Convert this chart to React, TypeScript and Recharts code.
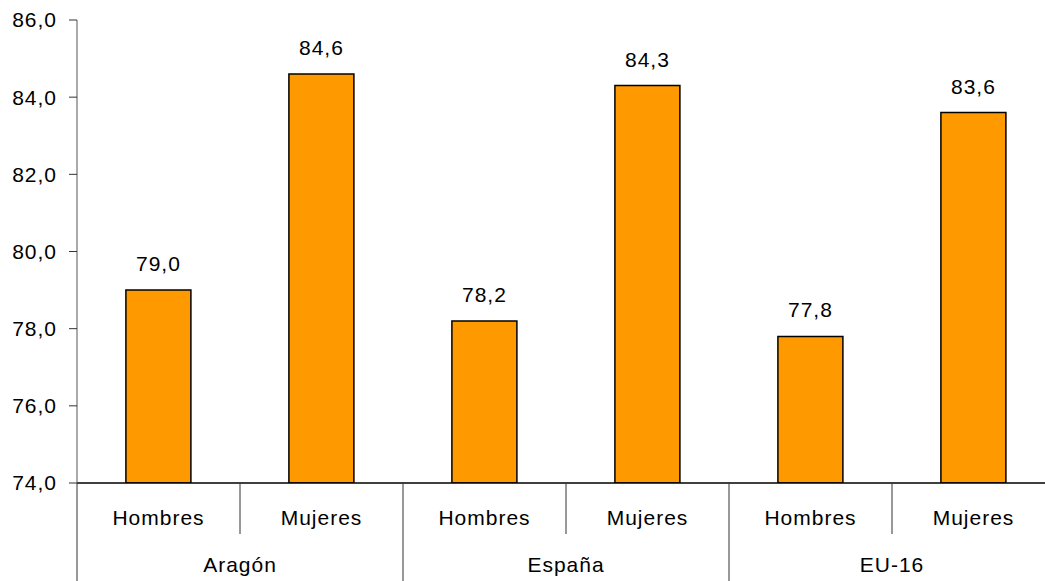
import { BarChart, Bar, XAxis, YAxis, LabelList } from "recharts";

const sexes = ["Hombres", "Mujeres", "Hombres", "Mujeres", "Hombres", "Mujeres"];
const regions = ["Aragón", "Aragón", "España", "España", "EU-16", "EU-16"];
const values = [79.0, 84.6, 78.2, 84.3, 77.8, 83.6];
const yTicks = [74, 76, 78, 80, 82, 84, 86];

const data = sexes.map((s, i) => ({ sex: s, region: regions[i], value: values[i] }));

const FONT = "'Liberation Sans', Arial, sans-serif";
const FS = 21;
const LS = 1;
const CHART_W = 1060;
const CHART_H = 581;
const PLOT_LEFT = 77;
const PLOT_RIGHT = 1055;
const CAT_W = (PLOT_RIGHT - PLOT_LEFT) / sexes.length;

const fmt = (v: number) => v.toFixed(1).replace(".", ",");

function CategoryTick(props: any) {
  const { x, y, index, payload } = props;
  const left = x - CAT_W / 2;
  const isGroupStart = index % 2 === 0;
  return (
    <g>
      <line
        x1={left}
        x2={left}
        y1={y}
        y2={isGroupStart ? y + 110 : y + 51}
        stroke="#333"
        strokeWidth={1}
      />
      {index === sexes.length - 1 ? (
        <line x1={x + CAT_W / 2} x2={x + CAT_W / 2} y1={y} y2={y + 110} stroke="#333" />
      ) : null}
      <text x={x} y={y + 42} textAnchor="middle" fontSize={FS} letterSpacing={LS} fontFamily={FONT} fill="#000">
        {payload.value}
      </text>
      {isGroupStart ? (
        <text
          x={x + CAT_W / 2}
          y={y + 89}
          textAnchor="middle"
          fontSize={FS}
          letterSpacing={LS}
          fontFamily={FONT}
          fill="#000"
        >
          {regions[index]}
        </text>
      ) : null}
    </g>
  );
}

export default function App() {
  return (
    <div
      style={{
        position: "absolute",
        left: 0,
        top: 0,
        width: 1045,
        height: 581,
        overflow: "hidden",
        background: "#fff",
      }}
    >
      <BarChart
        width={CHART_W}
        height={CHART_H}
        data={data}
        margin={{ top: 20, right: CHART_W - PLOT_RIGHT, left: 0, bottom: 0 }}
        barCategoryGap="30%"
      >
        <XAxis
          dataKey="sex"
          height={98}
          tickLine={false}
          tickSize={0}
          tickMargin={0}
          axisLine={{ stroke: "#000", strokeWidth: 1.5 }}
          tick={<CategoryTick />}
          interval={0}
        />
        <YAxis
          width={PLOT_LEFT}
          domain={[74, 86]}
          ticks={yTicks}
          tickFormatter={fmt}
          tickSize={8}
          tickMargin={12}
          axisLine={{ stroke: "#555" }}
          tickLine={{ stroke: "#333" }}
          tick={{ fontSize: FS, fill: "#000", fontFamily: FONT, letterSpacing: LS }}
          allowDataOverflow
        />
        <Bar dataKey="value" fill="#FF9900" stroke="#000" strokeWidth={1.5} isAnimationActive={false}>
          <LabelList
            dataKey="value"
            position="top"
            offset={19}
            formatter={(v: any) => fmt(Number(v))}
            style={{ fontSize: FS, fill: "#000", fontFamily: FONT, letterSpacing: LS }}
          />
        </Bar>
      </BarChart>
    </div>
  );
}
